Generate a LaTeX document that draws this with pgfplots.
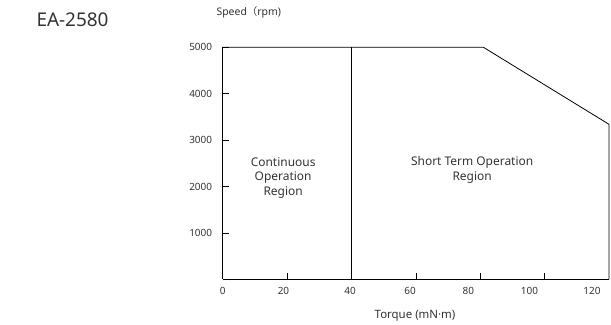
\documentclass[border=0pt]{standalone}
\usepackage{pgfplots}
\pgfplotsset{compat=1.18}
\usepackage{fontspec}
\setmainfont{Noto Sans}
\newfontfamily\cjk{Noto Sans CJK JP}
\begin{document}
\begin{tikzpicture}[x=1bp,y=1bp]
\useasboundingbox (0,0) rectangle (611,324);
\node[anchor=west,font=\fontsize{19}{22}\selectfont,text=black!80] at (33,304) {EA-2580};
\begin{axis}[
  at={(222.6bp,44.7bp)}, anchor=origin,
  scale only axis, width=386.4bp, height=232bp,
  xmin=0, xmax=120, ymin=0, ymax=5000,
  axis lines=left, axis line style={-, line width=0.8pt},
  tick align=inside,
  xtick={20,60,80,100},
  xticklabels={,,,},
  ytick={1000,2000,3000,4000,5000},
  major tick length=6bp,
  tick style={line width=0.6pt, black},
  extra x ticks={0,18.9,39.6,58.2,76.3,95.3,114.7},
  extra x tick labels={0,20,40,60,80,100,120},
  extra x tick style={tick style={draw=none}},
  /pgf/number format/assume math mode=true,
  /pgf/number format/set thousands separator={},
  tick label style={font=\fontsize{10}{12}\selectfont, text=black!80},
  xticklabel style={yshift=-4bp},
  yticklabel style={xshift=-7bp},
  clip=false,
]
\addplot[black, line width=0.8pt] coordinates {(0,5000) (81,5000) (120,3340) (120,0)};
\addplot[black, line width=0.8pt] coordinates {(40,0) (40,5000)};
\node[align=center, font=\fontsize{12}{15}\selectfont, text=black!80] at (axis cs:18.8,2183) {Continuous\\Operation\\Region};
\node[align=center, font=\fontsize{12}{15}\selectfont, text=black!80] at (axis cs:77.5,2355) {Short Term Operation\\Region};
\end{axis}
\node[font=\fontsize{11.5}{13}\selectfont, text=black!80] at (415,8) {Torque (mN·m)};
\node[anchor=west,font=\fontsize{10.5}{12}\selectfont, text=black!80] at (213,312) {Speed{\cjk （}rpm)};
\end{tikzpicture}
\end{document}
